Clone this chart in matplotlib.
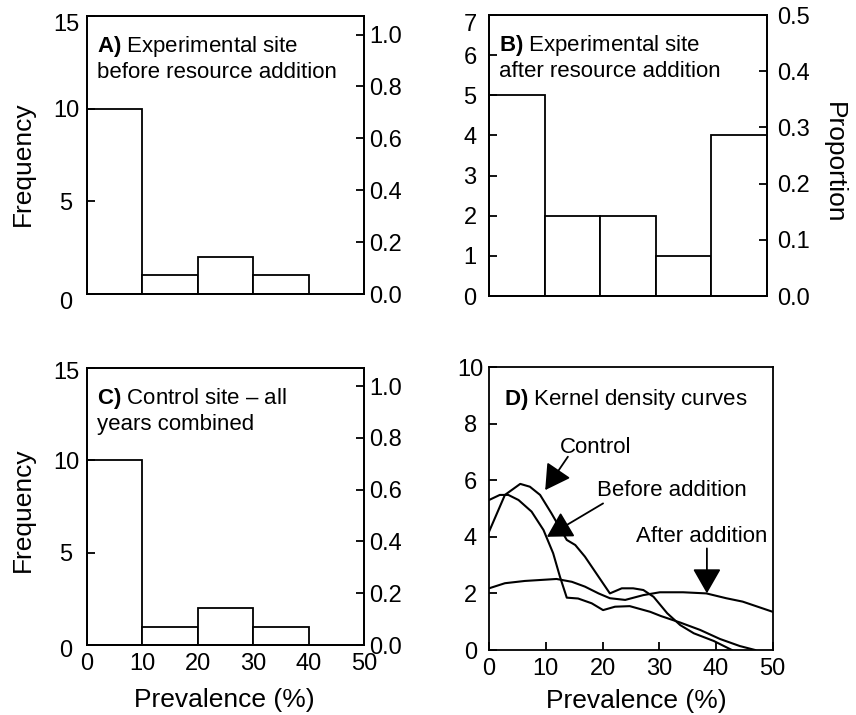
import numpy as np
import matplotlib
matplotlib.use('Agg')
import matplotlib.pyplot as plt
import matplotlib.transforms as mtransforms

plt.rcParams['font.family'] = ['Liberation Sans', 'DejaVu Sans']
plt.rcParams['mathtext.fontset'] = 'custom'
plt.rcParams['mathtext.rm'] = 'Liberation Sans'
plt.rcParams['mathtext.bf'] = 'Liberation Sans:bold'

# histogram data (counts per 10% prevalence bin)
bin_left = [0, 10, 20, 30, 40]
freq_before = [10, 1, 2, 1, 0]
freq_after = [5, 2, 2, 1, 4]
freq_control = [10, 1, 2, 1, 0]
n_total = 14

# kernel density curves
control_x = [0, 2.8, 5.5, 7.2, 9.0, 11.0, 13.7, 15.2, 16.9, 19.3, 21.3, 23.4, 25.4,
             27.2, 29.0, 31.4, 33.7, 36.1, 39.6, 42.8]
control_y = [4.18, 5.48, 5.87, 5.77, 5.48, 4.83, 3.89, 3.71, 3.3, 2.59, 2.0, 2.18, 2.18,
             2.12, 1.88, 1.3, 0.88, 0.59, 0.32, 0.0]
before_x = [0, 1.9, 3.4, 5.2, 7.5, 9.6, 11.3, 12.5, 13.7, 15.7, 18.1, 20.1, 22.2, 24.8,
            28.4, 30.3, 33.7, 37.2, 40.7, 44.2, 46.9]
before_y = [5.3, 5.48, 5.48, 5.3, 4.89, 4.24, 3.42, 2.59, 1.85, 1.82, 1.65, 1.41, 1.53, 1.55,
            1.35, 1.2, 0.97, 0.71, 0.39, 0.14, 0.0]
after_x = [0, 2.8, 6.3, 11.9, 14.6, 16.9, 19.3, 21.3, 24.0, 27.2, 30.1, 34.2, 38.3, 41.8,
           44.7, 50]
after_y = [2.18, 2.36, 2.44, 2.51, 2.41, 2.24, 2.0, 1.83, 1.77, 1.94, 2.04, 2.04, 2.0, 1.83,
           1.71, 1.35]

LW = 1.3
TICK_FS = 17
LABEL_FS = 19
TEXT_FS = 16

fig = plt.figure(figsize=(8.56, 7.15), dpi=100)


def shift_label(lab, dy_px):
    # nudge a tick label vertically by a few pixels
    lab.set_transform(lab.get_transform() +
                      mtransforms.ScaledTranslation(0, dy_px / 100, fig.dpi_scale_trans))


def style_axes(ax, left_pad):
    for s in ax.spines.values():
        s.set_linewidth(LW)
    ax.tick_params(direction='in', length=6, width=LW, labelsize=TICK_FS)
    ax.tick_params(axis='y', pad=left_pad)
    ax.tick_params(axis='x', pad=6)
    plt.setp(ax.get_yticklabels(), ha='center')


def hist_panel(rect, freq, ymax, yticks, rticks, label, show_x, left_pad, right_pad,
               top_shift=0, bottom_shift=0):
    ax = fig.add_axes(rect)
    heights = [f for f in freq if f > 0]
    lefts = [b for b, f in zip(bin_left, freq) if f > 0]
    ax.bar(lefts, heights, width=10, align='edge', facecolor='white',
           edgecolor='black', linewidth=LW)
    ax.set_xlim(0, 50)
    ax.set_ylim(0, ymax)
    ax.set_yticks(yticks)
    ax.set_xticks([0, 10, 20, 30, 40, 50])
    style_axes(ax, left_pad)
    ax.tick_params(axis='x', length=0)
    if not show_x:
        ax.set_xticklabels([])
    labs = ax.get_yticklabels()
    shift_label(labs[-1], -top_shift)
    shift_label(labs[0], -bottom_shift)
    ax.text(0.036, 0.935, label, transform=ax.transAxes, fontsize=TEXT_FS,
            va='top', ha='left', linespacing=1.2)

    rax = ax.twinx()
    rax.set_ylim(0, ymax / n_total)
    rax.set_yticks(rticks)
    rax.set_yticklabels([f'{t:.1f}' for t in rticks])
    for s in rax.spines.values():
        s.set_linewidth(LW)
    rax.tick_params(direction='in', length=6, width=LW, labelsize=TICK_FS, pad=right_pad)
    return ax


hist_panel([0.1016, 0.5888, 0.3236, 0.3888], freq_before, 15, [0, 5, 10, 15],
           [0, 0.2, 0.4, 0.6, 0.8, 1.0],
           r'$\bf{A)}$ Experimental site' + '\nbefore resource addition',
           False, 15, 4, top_shift=6, bottom_shift=6)
hist_panel([0.5713, 0.586, 0.3248, 0.393], freq_after, 7, list(range(8)),
           [0, 0.1, 0.2, 0.3, 0.4, 0.5],
           r'$\bf{B)}$ Experimental site' + '\nafter resource addition',
           False, 13.7, 7, top_shift=7)
hist_panel([0.1016, 0.0979, 0.3236, 0.3878], freq_control, 15, [0, 5, 10, 15],
           [0, 0.2, 0.4, 0.6, 0.8, 1.0],
           r'$\bf{C)}$ Control site – all' + '\nyears combined',
           True, 15, 4, top_shift=3, bottom_shift=3)

# panel D: kernel density curves
ax = fig.add_axes([0.5713, 0.0909, 0.3314, 0.3958])
ax.plot(control_x, control_y, color='black', lw=1.5)
ax.plot(before_x, before_y, color='black', lw=1.5)
ax.plot(after_x, after_y, color='black', lw=1.5)
ax.set_xlim(0, 50)
ax.set_ylim(0, 10)
ax.set_xticks([0, 10, 20, 30, 40, 50])
ax.set_yticks([0, 2, 4, 6, 8, 10])
style_axes(ax, 13.3)
ax.text(2.6, 9.3, r'$\bf{D)}$ Kernel density curves', fontsize=TEXT_FS, va='top', ha='left')

arrow = dict(arrowstyle='-|>,head_length=0.7,head_width=0.4', color='black',
             lw=1.3, shrinkA=0, shrinkB=0, mutation_scale=22)
ax.text(18.7, 7.14, 'Control', fontsize=TEXT_FS, ha='center', va='center')
ax.annotate('', xy=(9.9, 5.65), xytext=(13.9, 6.83), arrowprops=arrow)
ax.text(32.2, 5.63, 'Before addition', fontsize=TEXT_FS, ha='center', va='center')
ax.annotate('', xy=(10.2, 4.0), xytext=(20.1, 5.18), arrowprops=arrow)
ax.text(37.5, 4.0, 'After addition', fontsize=TEXT_FS, ha='center', va='center')
ax.annotate('', xy=(38.4, 2.0), xytext=(38.4, 3.59), arrowprops=arrow)

# axis titles placed in figure coordinates
fig.text(0.0263, 0.7713, 'Frequency', rotation=90, fontsize=LABEL_FS, ha='center', va='center')
fig.text(0.0263, 0.2867, 'Frequency', rotation=90, fontsize=LABEL_FS, ha='center', va='center')
fig.text(0.974, 0.7726, 'Proportion', rotation=270, fontsize=LABEL_FS, ha='center', va='center')
fig.text(224 / 856, 0.021, 'Prevalence (%)', fontsize=LABEL_FS, ha='center', va='center')
fig.text(636 / 856, 0.0196, 'Prevalence (%)', fontsize=LABEL_FS, ha='center', va='center')

fig.savefig('out.png', dpi=100)
